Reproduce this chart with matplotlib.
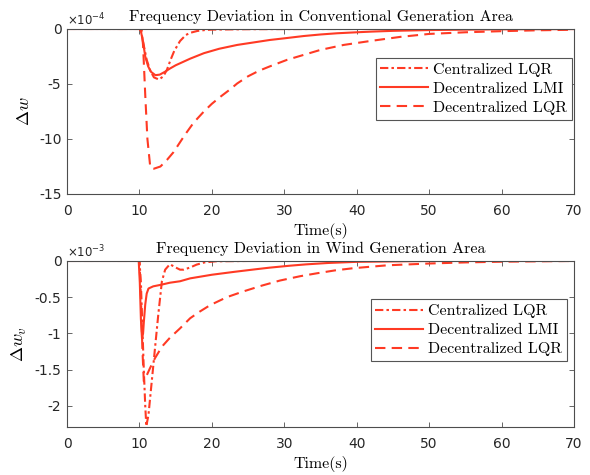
import numpy as np
import matplotlib
matplotlib.use('Agg')
import matplotlib.pyplot as plt

plt.rcParams['font.family'] = 'DejaVu Sans'
plt.rcParams['mathtext.fontset'] = 'cm'

# top panel: conventional area, values in 1e-4
t_c_cen = [0, 10, 10.2, 10.6, 11, 11.5, 12, 12.7, 13.3, 13.8, 14.3, 14.8, 15.6, 16.4, 17.0, 18, 19, 20, 25, 30, 40, 50, 70]
w_c_cen = [0, 0, -0.1, -1.5, -2.8, -3.8, -4.4, -4.6, -4.3, -3.7, -2.8, -2.0, -1.1, -0.55, -0.35, -0.18, -0.1, -0.06, -0.02, -0.01, 0, 0, 0]

t_c_lmi = [0, 10, 10.2, 10.5, 10.8, 11.2, 11.6, 12.2, 12.8, 13.5, 14.2, 15, 16, 17, 18.9, 21, 23.5, 26, 28, 30, 32.7,
           35, 37.3, 40, 42, 45, 50, 55, 60, 65, 70]
w_c_lmi = [0, 0, -0.2, -1.2, -2.5, -3.4, -3.9, -4.2, -4.15, -3.9, -3.6, -3.3, -3.0, -2.7, -2.2, -1.8, -1.45, -1.2, -1.0,
           -0.85, -0.64, -0.5, -0.39, -0.3, -0.24, -0.17, -0.1, -0.06, -0.03, -0.02, -0.01]

t_c_dlqr = [0, 10.3, 10.5, 10.8, 11.1, 11.5, 12.0, 12.9, 13.8, 14.7, 15.5, 16.3, 17.5, 18.9, 20, 21.2, 22.5, 23.5, 25,
            26.5, 28, 30.4, 32.7, 35, 38.2, 41.9, 46, 50, 55, 60, 65, 70]
w_c_dlqr = [0, 0, -1.5, -6, -10, -12.6, -12.7, -12.5, -11.9, -11.2, -10.4, -9.6, -8.5, -7.5, -6.8, -6.15, -5.5, -4.95,
            -4.3, -3.8, -3.4, -2.8, -2.35, -1.9, -1.45, -1.09, -0.72, -0.45, -0.3, -0.2, -0.12, -0.07]

# bottom panel: wind area, values in 1e-3
t_w_cen = [0, 10, 10.2, 10.4, 10.6, 10.8, 10.95, 11.25, 11.7, 12.15, 12.6, 13.1, 13.55, 14.2, 15.0, 15.6, 16.1,
           17.0, 17.9, 19.0, 20.5, 25, 70]
w_w_cen = [0, 0, -0.3, -0.9, -1.5, -2.0, -2.28, -2.12, -1.66, -1.2, -0.74, -0.28, -0.12, -0.045, -0.09, -0.12, -0.12,
           -0.09, -0.05, -0.02, -0.005, 0, 0]

t_w_lmi = [0, 9.9, 10.05, 10.2, 10.35, 10.5, 10.6, 10.8, 11.0, 11.25, 11.9, 12.9, 14.2, 15.6, 17, 20, 23.1, 26, 28,
           30.8, 33, 36, 40, 50, 70]
w_w_lmi = [0, 0, -0.3, -0.8, -1.07, -1.0, -0.85, -0.6, -0.45, -0.38, -0.35, -0.33, -0.3, -0.28, -0.24, -0.19, -0.15,
           -0.115, -0.092, -0.065, -0.047, -0.028, -0.012, 0, 0]

t_w_dlqr = [0, 10.0, 10.2, 10.4, 10.6, 10.9, 11.45, 12.15, 13.0, 13.3, 14.2, 15.6, 17.0, 18.3, 19.75, 22.05, 24.35,
            26.9, 29.4, 32.2, 34.5, 37, 39.5, 44.2, 50, 55, 60, 65, 70]
w_w_dlqr = [0, 0, -0.5, -1.2, -1.66, -1.6, -1.48, -1.34, -1.2, -1.16, -1.06, -0.93, -0.79, -0.7, -0.61, -0.5, -0.42,
            -0.34, -0.27, -0.21, -0.17, -0.13, -0.1, -0.06, -0.035, -0.02, -0.01, -0.005, 0]

labels = ['Centralized LQR', 'Decentralized LMI', 'Decentralized LQR']
red = '#ff3a24'
axcol = '#4d4d4d'
serif = 'cmr10'

fig = plt.figure(figsize=(5.9, 4.75), dpi=100)
ax1 = fig.add_axes([0.1136, 0.5916, 0.8593, 0.3474])
ax2 = fig.add_axes([0.1136, 0.1011, 0.8593, 0.3495])


def style(ax, title, ylab, expo, ylim, yticks, yticklabels, leg_anchor):
    ax.set_xlim(0, 70)
    ax.set_ylim(*ylim)
    ax.set_xticks(range(0, 71, 10))
    ax.set_yticks(yticks)
    ax.set_yticklabels(yticklabels)
    ax.tick_params(direction='in', top=True, right=True, length=3.5, width=0.6, colors=axcol,
                   labelsize=10, labelcolor='#262626')
    ax.tick_params(axis='x', pad=7)
    ax.tick_params(axis='y', pad=4)
    for s in ax.spines.values():
        s.set_color(axcol)
        s.set_linewidth(0.8)
    ax.set_title(title, family=serif, fontsize=11.5, pad=6)
    ax.set_ylabel(ylab, fontsize=13, labelpad=4)
    ax.set_xlabel('Time(s)', family=serif, fontsize=11.5, labelpad=4)
    ax.text(0.0, 1.004, expo, transform=ax.transAxes, ha='left', va='bottom', fontsize=8.5,
            math_fontfamily='dejavusans', color='#262626')
    leg = ax.legend(labels, loc='upper right', bbox_to_anchor=leg_anchor, borderaxespad=0,
                    prop={'family': serif, 'size': 11.5}, handlelength=3.0, handletextpad=0.3,
                    fancybox=False, framealpha=1, edgecolor='#555555', labelspacing=0.3,
                    borderpad=0.3)
    leg.get_frame().set_linewidth(0.8)


ax1.plot(t_c_cen, w_c_cen, color=red, lw=1.5, dashes=(4, 1.5, 1.2, 1.5))
ax1.plot(t_c_lmi, w_c_lmi, color=red, lw=1.5)
ax1.plot(t_c_dlqr, w_c_dlqr, color=red, lw=1.5, dashes=(5, 3))
style(ax1, 'Frequency Deviation in Conventional Generation Area', r'$\Delta w$', r'$\times10^{-4}$',
      (-15, 0), [-15, -10, -5, 0], ['-15', '-10', '-5', '0'], (0.996, 0.824))

ax2.plot(t_w_cen, w_w_cen, color=red, lw=1.5, dashes=(4, 1.5, 1.2, 1.5))
ax2.plot(t_w_lmi, w_w_lmi, color=red, lw=1.5)
ax2.plot(t_w_dlqr, w_w_dlqr, color=red, lw=1.5, dashes=(5, 3))
style(ax2, 'Frequency Deviation in Wind Generation Area', r'$\Delta w_v$', r'$\times10^{-3}$',
      (-2.29, 0), [-2, -1.5, -1, -0.5, 0], ['-2', '-1.5', '-1', '-0.5', '0'], (0.986, 0.769))

fig.savefig('out.png', dpi=100)
